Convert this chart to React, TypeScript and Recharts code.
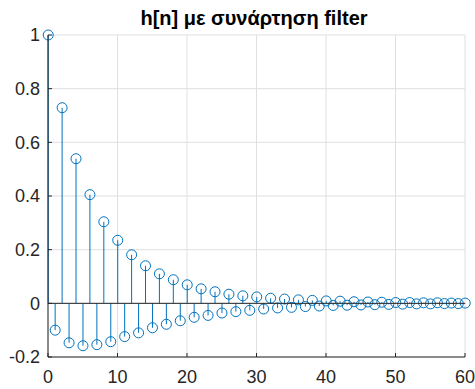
import React from "react";
import { ComposedChart, Bar, XAxis, YAxis, CartesianGrid, ReferenceLine } from "recharts";

const nValues: number[] = Array.from({ length: 61 }, (_, i) => i);
const hValues: number[] = [
  1.0, -0.1, 0.729, -0.147, 0.539, -0.158, 0.405, -0.154, 0.304, -0.143,
  0.235, -0.124, 0.181, -0.11, 0.14, -0.091, 0.11, -0.078, 0.088, -0.065,
  0.069, -0.052, 0.054, -0.045, 0.043, -0.036, 0.034, -0.031, 0.028, -0.026,
  0.024, -0.021, 0.019, -0.017, 0.016, -0.015, 0.013, -0.012, 0.011, -0.01,
  0.009, -0.008, 0.008, -0.007, 0.006, -0.006, 0.005, -0.005, 0.004, -0.004,
  0.003, -0.003, 0.003, -0.002, 0.002, -0.002, 0.002, -0.001, 0.001, -0.001,
  0.001,
];
const xTicks: number[] = [0, 10, 20, 30, 40, 50, 60];
const yTicks: number[] = [-0.2, 0, 0.2, 0.4, 0.6, 0.8, 1];
const title = "h[n] με συνάρτηση filter";

const data = nValues.map((n, i) => ({ n, h: hValues[i] }));

const BLUE = "#0072BD";
const AXIS = "#262626";
const FONT = "'Liberation Sans', Arial, Helvetica, sans-serif";

const StemShape = (props: any) => {
  const { x, y, width, height, payload } = props;
  if (x == null || y == null) return null;
  const cx = x + (width || 0) / 2;
  const a = y;
  const b = y + (height || 0);
  const top = Math.min(a, b);
  const bot = Math.max(a, b);
  const v = payload?.h ?? 0;
  const end = v >= 0 ? top : bot;
  const base = v >= 0 ? bot : top;
  return (
    <g>
      <line x1={cx} x2={cx} y1={base} y2={end} stroke={BLUE} strokeWidth={1} />
      <circle cx={cx} cy={end} r={5} fill="none" stroke={BLUE} strokeWidth={1} />
    </g>
  );
};

const fmt = (v: number) => String(Math.round(v * 10) / 10);

export default function App() {
  return (
    <div style={{ position: "absolute", left: 0, top: 0, width: 475, height: 389, background: "#fff" }}>
      <ComposedChart
        width={475}
        height={389}
        data={data}
        margin={{ top: 35, right: 10, bottom: 0, left: 0 }}
      >
        <CartesianGrid stroke="#dfdfdf" strokeWidth={1} />
        <XAxis
          dataKey="n"
          type="number"
          domain={[0, 60]}
          ticks={xTicks}
          height={32}
          stroke={AXIS}
          tickSize={-4}
          tickMargin={17}
          tick={{ fill: AXIS, fontSize: 18, fontFamily: FONT }}
        />
        <XAxis
          xAxisId="top"
          orientation="top"
          type="number"
          domain={[0, 60]}
          ticks={xTicks}
          height={0}
          stroke={AXIS}
          tickSize={-4}
          tick={false}
        />
        <YAxis
          type="number"
          domain={[-0.2, 1]}
          ticks={yTicks}
          width={48}
          stroke={AXIS}
          tickSize={-4}
          tickMargin={12}
          tickFormatter={fmt}
          tick={{ fill: AXIS, fontSize: 18, fontFamily: FONT }}
        />
        <YAxis
          yAxisId="right"
          orientation="right"
          type="number"
          domain={[-0.2, 1]}
          ticks={yTicks}
          width={0}
          stroke={AXIS}
          tickSize={-4}
          tick={false}
        />
        <Bar dataKey="h" shape={StemShape} isAnimationActive={false} />
        <ReferenceLine y={0} stroke={AXIS} strokeWidth={1} />
      </ComposedChart>
      <div
        style={{
          position: "absolute",
          left: 54,
          width: 400,
          top: 7,
          textAlign: "center",
          fontFamily: FONT,
          fontWeight: "bold",
          fontSize: 20,
          color: "#000",
          lineHeight: "22px",
          whiteSpace: "nowrap",
        }}
      >
        {title}
      </div>
    </div>
  );
}
